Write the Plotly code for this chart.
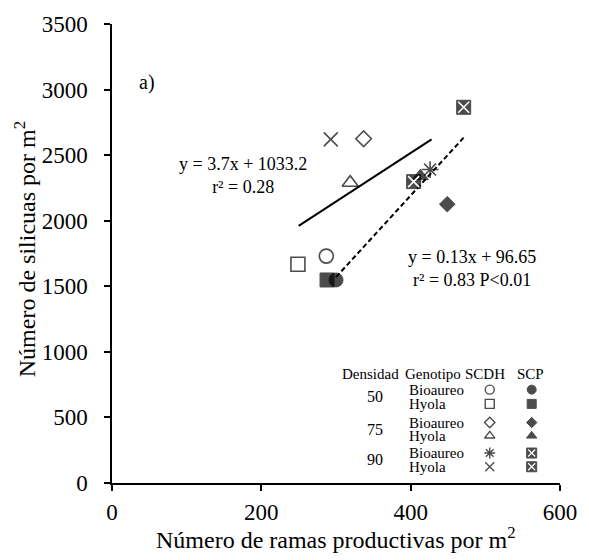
import plotly.graph_objects as go

# ---------------- data ----------------
row_labels = ["Bioaureo 50", "Hyola 50", "Bioaureo 75", "Hyola 75", "Bioaureo 90", "Hyola 90"]
scdh_x = [287, 249, 337, 319, 426, 293]
scdh_y = [1730, 1668, 2625, 2290, 2390, 2620]
scp_x = [300, 288, 449, 413, 471, 404]
scp_y = [1548, 1548, 2126, 2340, 2865, 2298]

fit_scdh_x = [250, 428]
fit_scdh_y = [1960, 2620]
fit_scp_x = [300, 472]
fit_scp_y = [1570, 2640]

x_ticks = [0, 200, 400, 600]
y_ticks = [0, 500, 1000, 1500, 2000, 2500, 3000, 3500]

legend_density = ["50", "75", "90"]
legend_genotype = ["Bioaureo", "Hyola", "Bioaureo", "Hyola", "Bioaureo", "Hyola"]
legend_header = ["Densidad", "Genotipo", "SCDH", "SCP"]

eq_scdh = "y = 3.7x + 1033.2<br>r² = 0.28"
eq_scp = "y = 0.13x + 96.65<br>r² = 0.83 P<0.01"

# ---------------- layout constants ----------------
W, H = 589, 560
ML, MR, MT, MB = 112, 18, 16, 77
PW, PH = W - ML - MR, H - MT - MB
FONT = "Liberation Serif, Times New Roman, serif"

def px(xp):
    return (xp - ML) / PW

def py(yp):
    return (H - MB - yp) / PH

scdh_sym = ["circle-open", "square-open", "diamond-open", "triangle-up-open", "asterisk-open", "x-thin-open"]
scdh_size = [14, 14, 12, 14, 14, 14]
scp_sym = ["circle", "square", "diamond", "triangle-up", "square", "square"]
scp_size = [14, 14, 12, 14, 14, 14]
scp_cross = [False, False, False, False, True, True]

fig = go.Figure()

# regression lines
fig.add_trace(go.Scatter(x=fit_scdh_x, y=fit_scdh_y, mode="lines",
                         line=dict(color="black", width=2), showlegend=False))
fig.add_trace(go.Scatter(x=fit_scp_x, y=fit_scp_y, mode="lines",
                         line=dict(color="black", width=2, dash="5px,3px"), showlegend=False))

# SCDH points (open)
fig.add_trace(go.Scatter(x=scdh_x, y=scdh_y, mode="markers", text=row_labels,
                         marker=dict(symbol=scdh_sym, size=scdh_size, color="black",
                                     line=dict(color="black", width=1.6)),
                         showlegend=False))
# SCP points (filled)
fig.add_trace(go.Scatter(x=scp_x, y=scp_y, mode="markers", text=row_labels,
                         marker=dict(symbol=scp_sym, size=scp_size, color="black",
                                     line=dict(color="black", width=1)),
                         showlegend=False))
cx = [x for x, c in zip(scp_x, scp_cross) if c]
cy = [y for y, c in zip(scp_y, scp_cross) if c]
fig.add_trace(go.Scatter(x=cx, y=cy, mode="markers",
                         marker=dict(symbol="x-thin-open", size=11, color="white",
                                     line=dict(color="white", width=1.6)),
                         showlegend=False))

# ---------------- custom legend table (paper coords via overlay axes) ----------------
row_y_px = [388, 402.5, 421.5, 435, 452.5, 466.5]
scdh_col_px, scp_col_px = 499, 542
ly = [py(v) for v in row_y_px]
fig.add_trace(go.Scatter(x=[px(scdh_col_px)] * 6, y=ly, mode="markers", xaxis="x2", yaxis="y2",
                         marker=dict(symbol=scdh_sym, size=[9, 9, 8, 9, 9, 9], color="black",
                                     line=dict(color="black", width=1.4)),
                         showlegend=False, hoverinfo="skip"))
fig.add_trace(go.Scatter(x=[px(scp_col_px)] * 6, y=ly, mode="markers", xaxis="x2", yaxis="y2",
                         marker=dict(symbol=scp_sym, size=[9, 9, 8, 9, 10, 10], color="black",
                                     line=dict(color="black", width=1)),
                         showlegend=False, hoverinfo="skip"))
fig.add_trace(go.Scatter(x=[px(scp_col_px)] * 2, y=[ly[4], ly[5]], mode="markers",
                         xaxis="x2", yaxis="y2",
                         marker=dict(symbol="x-thin-open", size=7, color="white",
                                     line=dict(color="white", width=1.2)),
                         showlegend=False, hoverinfo="skip"))

annotations = []
def ann(text, x, y, size, xanchor="center", yanchor="middle", align="center", angle=0):
    annotations.append(dict(text=text, x=px(x), y=py(y), xref="paper", yref="paper",
                            showarrow=False, xanchor=xanchor, yanchor=yanchor, align=align,
                            textangle=angle, font=dict(family=FONT, size=size, color="black")))

# header
hdr_x = [377, 441, 494, 541]
for t, xx in zip(legend_header, hdr_x):
    ann(t, xx, 372, 15)
# density
for t, yy in zip(legend_density, [395, 428.3, 459.5]):
    ann(t, 381.7, yy, 16)
# genotypes
for t, yy in zip(legend_genotype, row_y_px):
    ann(t, 414, yy, 15, xanchor="left")

# equations and panel label
ann(eq_scdh, 246, 170, 18)
ann(eq_scp, 413, 264.5, 18, xanchor="left")
ann("a)", 138, 76, 20, xanchor="left")

# axis titles
ann("Número de silicuas por m<sup>2</sup>", 23, 245, 24, angle=-90)
ann("Número de ramas productivas por m<sup>2</sup>", 341, 556, 24, yanchor="bottom")

axis_common = dict(showline=True, linecolor="black", linewidth=1.5, ticks="outside",
                   ticklen=6, tickwidth=1.5, tickcolor="black", showgrid=False,
                   zeroline=False, tickfont=dict(family=FONT, size=23, color="black"))

fig.update_layout(
    width=W, height=H,
    margin=dict(l=ML, r=MR, t=MT, b=MB),
    paper_bgcolor="white", plot_bgcolor="white",
    showlegend=False,
    xaxis=dict(range=[0, 600], tickvals=x_ticks, ticklabelstandoff=2, **axis_common),
    yaxis=dict(range=[0, 3500], tickvals=y_ticks, ticklabelstandoff=12, **axis_common),
    xaxis2=dict(range=[0, 1], overlaying="x", visible=False, fixedrange=True),
    yaxis2=dict(range=[0, 1], overlaying="y", visible=False, fixedrange=True),
    annotations=annotations,
    font=dict(family=FONT, color="black"),
)

fig.write_html("out.html", config={"displayModeBar": False},
               post_script="document.body.style.margin='0';")
